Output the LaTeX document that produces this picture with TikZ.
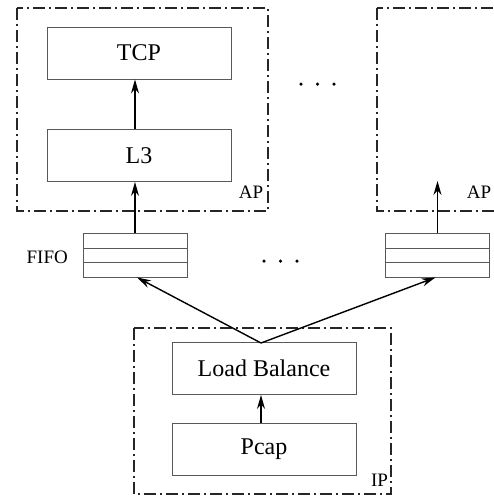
\documentclass[tikz,border=0pt]{standalone}
\usepackage{fontspec}
\setmainfont{Liberation Serif}
\usetikzlibrary{arrows.meta}
\begin{document}
\begin{tikzpicture}[x=1pt,y=-1pt,
  grp/.style={draw=black!85,line width=1.4pt,dash pattern=on 12pt off 4pt on 2pt off 4pt},
  blk/.style={draw=black!65,line width=0.9pt,minimum width=184pt,minimum height=52pt,inner sep=0pt,font=\fontsize{24}{28}\selectfont},
  fifo/.style={draw=black!65,line width=0.9pt,minimum width=104pt,minimum height=44pt,inner sep=0pt,
    path picture={\draw[black!65,line width=0.9pt]
      ([yshift=-15pt]path picture bounding box.north west) -- ([yshift=-15pt]path picture bounding box.north east)
      ([yshift=15pt]path picture bounding box.south west) -- ([yshift=15pt]path picture bounding box.south east);}},
  lbl/.style={font=\fontsize{19}{22}\selectfont,inner sep=0pt},
  arr/.style={-{Stealth[length=14pt,width=8pt]},line width=1.4pt,black},
  dot/.style={circle,fill=black,inner sep=0pt,minimum size=3.5pt}]
\useasboundingbox (0,0) rectangle (494,499);
\begin{scope}
\clip (0,0) rectangle (494,499);
% group boxes
\draw[grp] (17,8) rectangle (268,211);
\draw[grp] (377,8) rectangle (628,211);
\draw[grp] (134,328) rectangle (391,494);
\end{scope}
% blocks
\node[blk] (tcp) at (139,53) {TCP};
\node[blk] (l3) at (139,155.5) {L3};
\node[blk] (lb) at (264,368.5) {Load Balance};
\node[blk] (pcap) at (264,449) {Pcap};
\node[fifo] (fifoL) at (135,255) {};
\node[fifo] (fifoR) at (437.5,255) {};
% labels
\node[lbl,anchor=east] (fifolbl) at (68,257) {FIFO};
\node[lbl] (apL) at (251,192) {AP};
\node[lbl] (apR) at (479,192) {AP};
\node[lbl] (ip) at (379.5,480) {IP};
\node[dot] (d1) at (301,84) {};
\node[dot] (d2) at (317.5,84) {};
\node[dot] (d3) at (334,84) {};
\node[dot] (d4) at (264,261) {};
\node[dot] (d5) at (280.5,261) {};
\node[dot] (d6) at (297,261) {};
% connectors
\coordinate (lbtop) at (261,343);
\coordinate (rtop) at (437.5,181);
\draw[arr] (l3.north -| 135,0) -- (tcp.south -| 135,0);
\draw[arr] (fifoL.north) -- (l3.south -| fifoL.north);
\draw[arr] (fifoR.north) -- (rtop);
\draw[arr] (lbtop) -- ([xshift=2pt]fifoL.south);
\draw[arr] (lbtop) -- ([xshift=-2pt]fifoR.south);
\draw[arr] (pcap.north -| lbtop) -- (lb.south -| lbtop);
\end{tikzpicture}
\end{document}
